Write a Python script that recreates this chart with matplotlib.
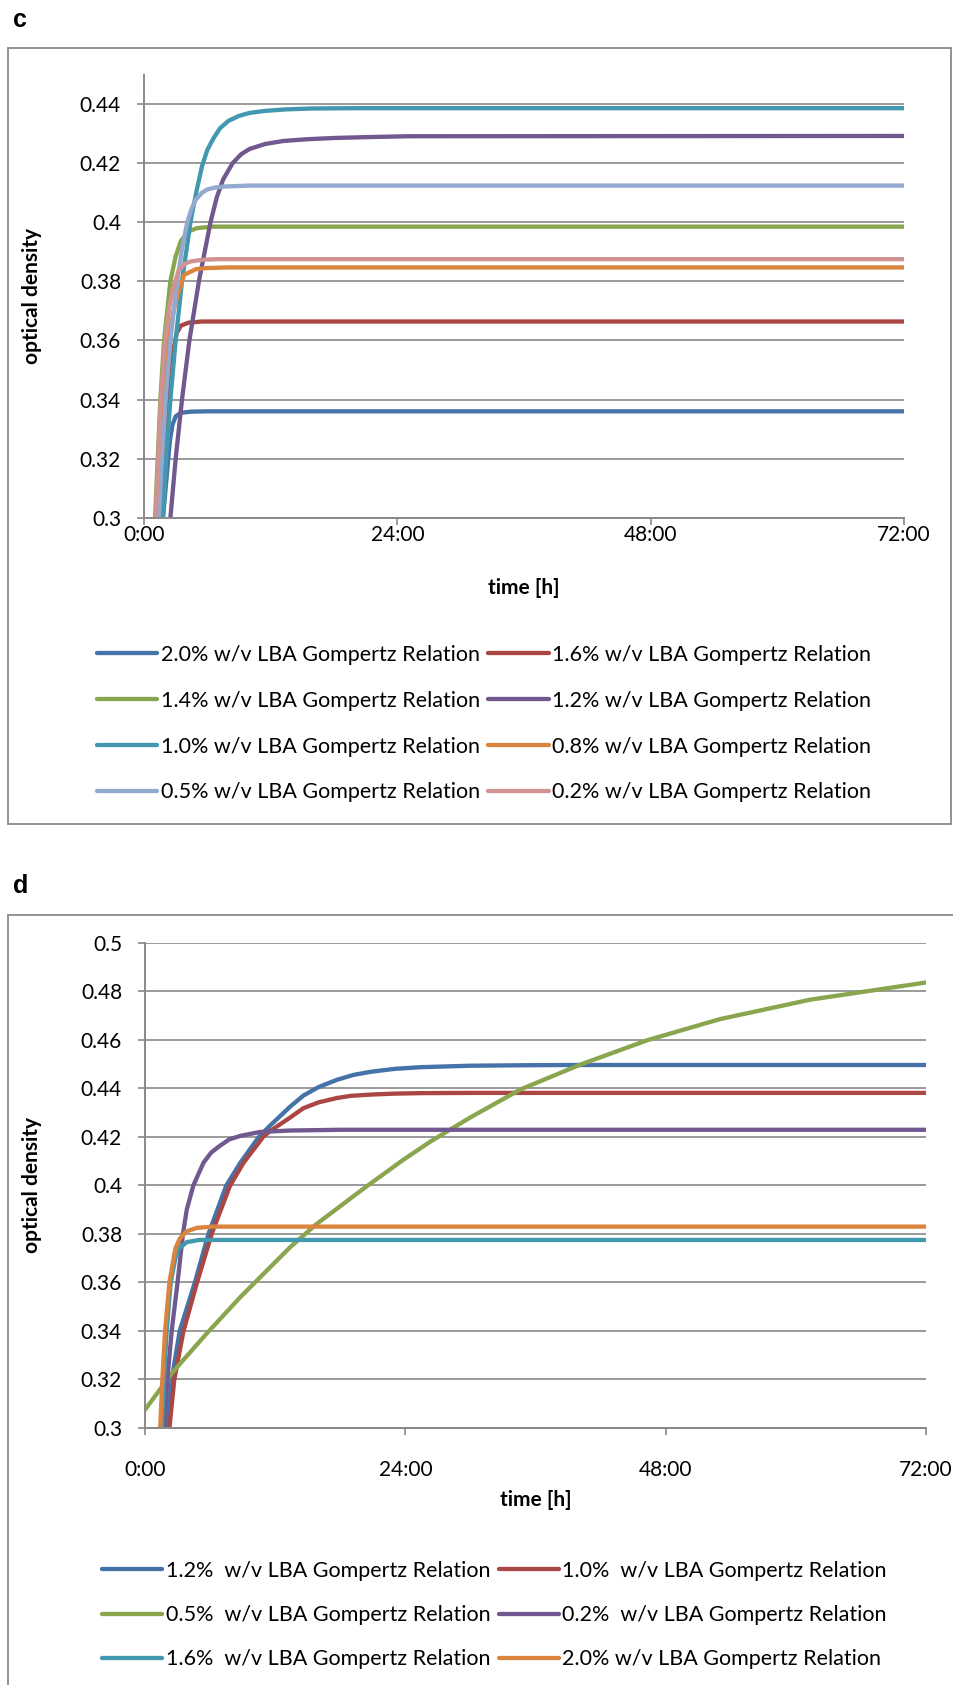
import matplotlib.pyplot as plt
from matplotlib.patches import Rectangle

plt.rcParams['font.family'] = ['Lato', 'DejaVu Sans']

# ---- panel c data (time in hours, optical density) ----
c_labels = ["2.0% w/v LBA Gompertz Relation", "1.6% w/v LBA Gompertz Relation",
            "1.4% w/v LBA Gompertz Relation", "1.2% w/v LBA Gompertz Relation",
            "1.0% w/v LBA Gompertz Relation", "0.8% w/v LBA Gompertz Relation",
            "0.5% w/v LBA Gompertz Relation", "0.2% w/v LBA Gompertz Relation"]

c_t_20 = [1.8, 2.3, 2.45, 2.7, 3.0, 3.5, 4.5, 6, 72]
c_od_20 = [0.300, 0.320, 0.326, 0.3315, 0.3343, 0.3355, 0.3359, 0.336, 0.336]
c_t_16 = [1.4, 1.8, 2.2, 2.55, 2.85, 3.1, 3.5, 4.2, 5.5, 72]
c_od_16 = [0.300, 0.320, 0.340, 0.352, 0.358, 0.3625, 0.365, 0.366, 0.3664, 0.3664]
c_t_14 = [1.05, 1.3, 1.55, 1.9, 2.5, 3.0, 3.5, 4.2, 5.0, 6.5, 72]
c_od_14 = [0.300, 0.320, 0.340, 0.360, 0.380, 0.3885, 0.3937, 0.3968, 0.398, 0.3985, 0.3985]
c_t_12 = [2.5, 3.0, 3.6, 4.3, 5.2, 6.3, 6.9, 7.5, 8.4, 9.2, 10.0, 11.5, 13.2, 15.5, 17.9, 21, 25, 72]
c_od_12 = [0.300, 0.320, 0.340, 0.360, 0.380, 0.400, 0.4085, 0.4145, 0.4200, 0.4230, 0.4248,
           0.4265, 0.4275, 0.4281, 0.4285, 0.4288, 0.4291, 0.4292]
c_t_10 = [1.8, 2.1, 2.5, 3.0, 3.6, 4.4, 5.0, 5.5, 6.0, 6.6, 7.2, 8.0, 9.0, 10.0, 11.5, 13.5, 16, 20, 72]
c_od_10 = [0.300, 0.320, 0.340, 0.360, 0.380, 0.400, 0.411, 0.419, 0.4245, 0.4285, 0.4318,
           0.4343, 0.436, 0.437, 0.4377, 0.4382, 0.4385, 0.4386, 0.4386]
c_t_08 = [1.2, 1.5, 1.85, 2.3, 2.8, 3.15, 3.8, 4.9, 6, 8, 72]
c_od_08 = [0.300, 0.320, 0.340, 0.360, 0.370, 0.3748, 0.3822, 0.3841, 0.3845, 0.3847, 0.3847]
c_t_05 = [1.4, 1.7, 2.05, 2.5, 3.15, 3.6, 4.1, 4.5, 4.9, 5.5, 6.0, 6.8, 7.7, 10, 72]
c_od_05 = [0.300, 0.320, 0.340, 0.360, 0.380, 0.391, 0.400, 0.4045, 0.4076, 0.410, 0.4111,
           0.4118, 0.4121, 0.4124, 0.4124]
c_t_02 = [1.1, 1.35, 1.6, 2.0, 2.4, 2.7, 3.3, 3.9, 4.4, 5.5, 7, 72]
c_od_02 = [0.300, 0.320, 0.340, 0.360, 0.371, 0.377, 0.3838, 0.386, 0.3867, 0.3873, 0.3875, 0.3875]

# ---- panel d data ----
d_labels = ["1.2%  w/v LBA Gompertz Relation", "1.0%  w/v LBA Gompertz Relation",
            "0.5%  w/v LBA Gompertz Relation", "0.2%  w/v LBA Gompertz Relation",
            "1.6%  w/v LBA Gompertz Relation", "2.0% w/v LBA Gompertz Relation"]

d_t_12 = [2.0, 2.46, 3.2, 4.6, 5.85, 7.5, 8.8, 10.5, 11.5, 13.4, 14.6, 16.0, 17.7, 19.2, 20.8,
          23.0, 25.4, 30, 35, 40, 72]
d_od_12 = [0.300, 0.320, 0.340, 0.360, 0.380, 0.400, 0.4094, 0.420, 0.4245, 0.4325, 0.437,
           0.4405, 0.4435, 0.4455, 0.4468, 0.448, 0.4487, 0.4493, 0.4495, 0.4496, 0.4496]
d_t_10 = [2.25, 2.7, 3.55, 4.8, 6.15, 7.85, 9.1, 10.9, 11.5, 13.4, 14.6, 16.0, 17.7, 19.0,
          20.8, 23.0, 25.4, 30, 72]
d_od_10 = [0.300, 0.320, 0.340, 0.360, 0.380, 0.400, 0.4094, 0.420, 0.4223, 0.428, 0.4318,
           0.4342, 0.436, 0.4369, 0.4374, 0.4378, 0.438, 0.4381, 0.4381]
d_t_05 = [0, 2.6, 5.7, 8.8, 13.4, 15.8, 20.1, 23.8, 26.3, 28.4, 30, 34.6, 40.1, 46.3, 53.0, 61.3, 72]
d_od_05 = [0.3075, 0.3233, 0.339, 0.354, 0.3746, 0.384, 0.3985, 0.4105, 0.418, 0.4237, 0.428,
           0.4395, 0.4497, 0.4598, 0.4685, 0.4765, 0.4836]
d_t_02 = [1.75, 2.06, 2.46, 3.0, 3.5, 3.85, 4.46, 5.4, 6.1, 6.9, 7.8, 8.8, 10.6, 13.4, 18, 72]
d_od_02 = [0.300, 0.320, 0.340, 0.360, 0.380, 0.390, 0.400, 0.4094, 0.4135, 0.4163, 0.419,
           0.4204, 0.422, 0.4226, 0.4229, 0.4229]
d_t_16 = [1.55, 1.75, 2.0, 2.37, 2.8, 3.1, 3.85, 5, 72]
d_od_16 = [0.300, 0.320, 0.340, 0.360, 0.370, 0.3739, 0.3766, 0.3775, 0.3775]
d_t_20 = [1.4, 1.6, 1.85, 2.25, 2.8, 3.2, 3.8, 4.8, 6.3, 72]
d_od_20 = [0.300, 0.320, 0.340, 0.360, 0.374, 0.378, 0.381, 0.3825, 0.383, 0.383]

x_ticks = [0, 24, 48, 72]
x_ticklabels = ["0:00", "24:00", "48:00", "72:00"]
c_yticks = [0.30, 0.32, 0.34, 0.36, 0.38, 0.40, 0.42, 0.44]
d_yticks = [0.30, 0.32, 0.34, 0.36, 0.38, 0.40, 0.42, 0.44, 0.46, 0.48, 0.50]

c_colors = ['#4572A7', '#AA4643', '#89A54E', '#71588F', '#4198AF', '#DB843D', '#93A9CF', '#D19392']
d_colors = ['#4572A7', '#AA4643', '#89A54E', '#71588F', '#4198AF', '#DB843D']

W, H = 954, 1685
fig = plt.figure(figsize=(W / 100, H / 100), dpi=100)
grey = '#898989'
fs = 15
fs_leg = 15.5


def style_axes(ax, yticks, ylim):
    ax.set_xlim(0, 72)
    ax.set_ylim(*ylim)
    ax.set_xticks(x_ticks)
    ax.set_xticklabels(x_ticklabels)
    ax.set_yticks(yticks)
    ax.set_yticklabels([f"{v:g}" for v in yticks])
    ax.yaxis.grid(True, color=grey, lw=1.2)
    ax.set_axisbelow(True)
    for s in ['top', 'right']:
        ax.spines[s].set_visible(False)
    for s in ['left', 'bottom']:
        ax.spines[s].set_color(grey)
        ax.spines[s].set_linewidth(1.4)
    ax.tick_params(axis='both', direction='out', length=5, width=1.2, color=grey,
                   labelsize=fs, labelcolor='black')
    ax.tick_params(axis='y', pad=11.5)
    ax.set_xlabel("time [h]", fontsize=fs, fontweight='bold')
    ax.set_ylabel("optical density", fontsize=fs, fontweight='bold')
    ax.xaxis.label.set_va('center')
    ax.yaxis.label.set_va('center')


def px_axes(left, right, top, bottom):
    return [left / W, 1 - bottom / H, (right - left) / W, (bottom - top) / H]


# ---- panel c ----
fig.add_artist(Rectangle((8.3 / W, 1 - 824 / H), (951 - 8.3) / W, (824 - 47.7) / H,
                         transform=fig.transFigure, fill=False, ec=grey, lw=1.3))
fig.text(13 / W, 1 - 27 / H, "c", fontsize=18, fontweight='bold',
         family=['Liberation Sans', 'DejaVu Sans'], va='baseline')
axc = fig.add_axes(px_axes(144, 904, 74.5, 517.7))
c_series = [(c_t_20, c_od_20), (c_t_16, c_od_16), (c_t_14, c_od_14), (c_t_12, c_od_12),
            (c_t_10, c_od_10), (c_t_08, c_od_08), (c_t_05, c_od_05), (c_t_02, c_od_02)]
for (t, od), col, lab in zip(c_series, c_colors, c_labels):
    axc.plot(t, od, color=col, lw=3.1, label=lab, solid_capstyle='round', solid_joinstyle='round')
style_axes(axc, c_yticks, (0.3, 0.45))
axc.tick_params(axis='x', pad=0)
axc.xaxis.set_label_coords(0.5, (517.7 - 587.6) / (517.7 - 74.5))
axc.yaxis.set_label_coords((32 - 144) / 760, 0.5)
hc = axc.get_lines()
order = [0, 2, 4, 6, 1, 3, 5, 7]
axc.legend([hc[i] for i in order], [c_labels[i] for i in order], ncol=2, loc='upper left',
           bbox_to_anchor=(97 / W, 1 - 645 / H), bbox_transform=fig.transFigure,
           frameon=False, fontsize=fs_leg, handlelength=2.8, handletextpad=0.15,
           columnspacing=0.4, labelspacing=1.2, borderpad=0, borderaxespad=0)

# ---- panel d ----
fig.add_artist(Rectangle((8.3 / W, -0.02), 1.0, 1 - 915 / H + 0.02,
                         transform=fig.transFigure, fill=False, ec=grey, lw=1.3))
fig.text(13 / W, 1 - 892.7 / H, "d", fontsize=18, fontweight='bold',
         family=['Liberation Sans', 'DejaVu Sans'], va='baseline')
axd = fig.add_axes(px_axes(145, 926, 942.7, 1428))
d_series = [(d_t_12, d_od_12), (d_t_10, d_od_10), (d_t_05, d_od_05),
            (d_t_02, d_od_02), (d_t_16, d_od_16), (d_t_20, d_od_20)]
for (t, od), col, lab in zip(d_series, d_colors, d_labels):
    axd.plot(t, od, color=col, lw=3.1, label=lab, solid_capstyle='round', solid_joinstyle='round')
style_axes(axd, d_yticks, (0.3, 0.5))
axd.tick_params(axis='x', pad=18)
axd.xaxis.set_label_coords(0.5, (1428 - 1500) / (1428 - 942.7))
axd.yaxis.set_label_coords((32 - 145) / 781, 0.5)
hd = axd.get_lines()
order = [0, 2, 4, 1, 3, 5]
axd.legend([hd[i] for i in order], [d_labels[i] for i in order], ncol=2, loc='upper left',
           bbox_to_anchor=(102 / W, 1 - 1561 / H), bbox_transform=fig.transFigure,
           frameon=False, fontsize=fs_leg, handlelength=2.8, handletextpad=0.15,
           columnspacing=0.4, labelspacing=1.12, borderpad=0, borderaxespad=0)

fig.savefig("out.png", dpi=100)
